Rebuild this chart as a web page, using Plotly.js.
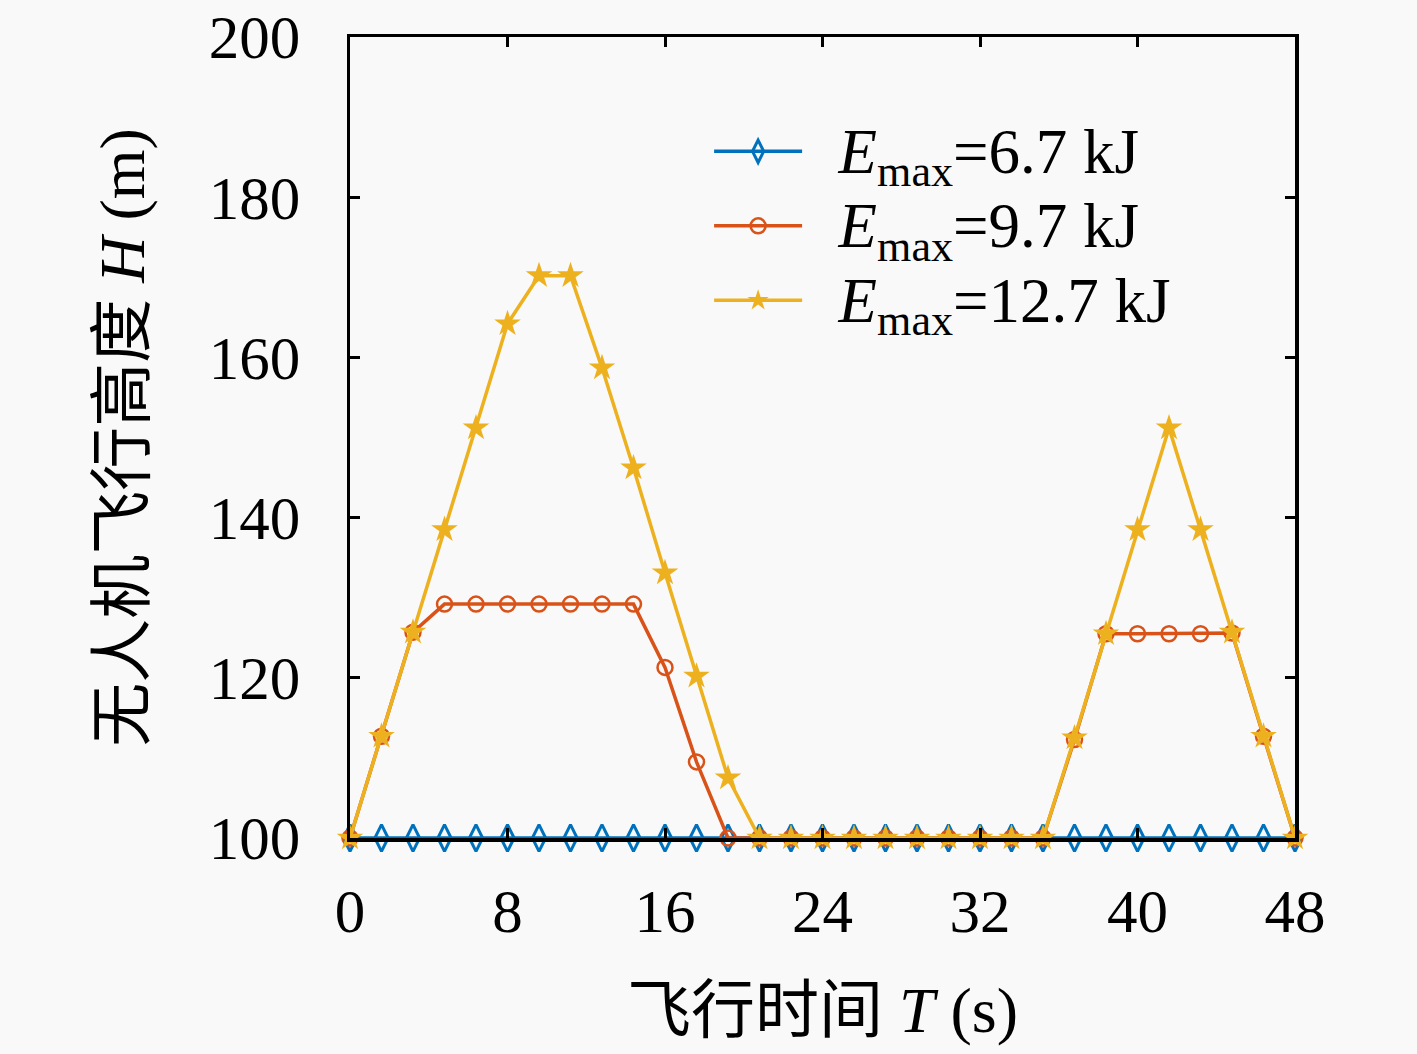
<!DOCTYPE html>
<html>
<head>
<meta charset="utf-8">
<script src="https://cdn.plot.ly/plotly-3.0.1.min.js"></script>
<style>
  html, body { margin: 0; padding: 0; background: #f9f9f9; }
  #chart { width: 1417px; height: 1054px; }
</style>
</head>
<body>
<div id="chart"></div>
<script>
// flight time T (s), one sample every 1.6 s
var timeT = [0, 1.6, 3.2, 4.8, 6.4, 8, 9.6, 11.2, 12.8, 14.4, 16, 17.6, 19.2, 20.8, 22.4, 24,
             25.6, 27.2, 28.8, 30.4, 32, 33.6, 35.2, 36.8, 38.4, 40, 41.6, 43.2, 44.8, 46.4, 48];

// UAV altitude H (m) for each energy budget
var h67 = [100, 100, 100, 100, 100, 100, 100, 100, 100, 100, 100, 100, 100, 100, 100, 100,
           100, 100, 100, 100, 100, 100, 100, 100, 100, 100, 100, 100, 100, 100, 100];
var h97 = [100, 112.7, 125.7, 129.2, 129.2, 129.2, 129.2, 129.2, 129.2, 129.2, 121.3, 109.5, 100, 100, 100, 100,
           100, 100, 100, 100, 100, 100, 100, 112.3, 125.5, 125.5, 125.5, 125.5, 125.6, 112.7, 100];
var h127 = [100, 112.7, 125.7, 138.5, 151.2, 164.2, 170.2, 170.2, 158.7, 146.2, 133.1, 120.2, 107.5, 100, 100, 100,
            100, 100, 100, 100, 100, 100, 100, 112.5, 125.5, 138.5, 151.2, 138.5, 125.7, 112.7, 100];

var energyLabels = ['6.7 kJ', '9.7 kJ', '12.7 kJ'];

var xTicks = [0, 8, 16, 24, 32, 40, 48];
var yTicks = [100, 120, 140, 160, 180, 200];

var serif = '"Liberation Serif", "Noto Sans CJK SC", serif';

function legendName(lbl) {
  return '<span style="font-size:63px">\u00a0\u00a0<i>E</i><sub>max</sub>=' + lbl + '</span>';
}

var traces = [
  {
    x: timeT, y: h67, name: legendName(energyLabels[0]), type: 'scatter', mode: 'lines+markers',
    cliponaxis: false,
    line: {color: '#0072BD', width: 3.5},
    marker: {symbol: 'diamond-tall-open', size: 19, color: '#0072BD', line: {width: 3, color: '#0072BD'}}
  },
  {
    x: timeT, y: h97, name: legendName(energyLabels[1]), type: 'scatter', mode: 'lines+markers',
    cliponaxis: false,
    line: {color: '#D95319', width: 3.5},
    marker: {symbol: 'circle-open', size: 15, color: '#D95319', line: {width: 2.5, color: '#D95319'}}
  },
  {
    x: timeT, y: h127, name: legendName(energyLabels[2]), type: 'scatter', mode: 'lines+markers',
    cliponaxis: false,
    line: {color: '#EDB120', width: 3.5},
    marker: {symbol: 'star', size: 20, color: '#EDB120', line: {width: 0}}
  }
];

var axisCommon = {
  showline: true, linecolor: '#000', linewidth: 3.5, mirror: 'allticks',
  ticks: 'inside', ticklen: 10, tickwidth: 3, tickcolor: '#000',
  showgrid: false, zeroline: false, layer: 'above traces',
  tickfont: {family: serif, size: 61, color: '#000'}
};

var layout = {
  width: 1417, height: 1054,
  margin: {l: 350, r: 122, t: 37, b: 216},
  paper_bgcolor: '#f9f9f9', plot_bgcolor: '#f9f9f9',
  showlegend: true,
  xaxis: Object.assign({}, axisCommon, {
    range: [0, 48], tickvals: xTicks, ticklabelstandoff: 17,
    title: {text: '飞行时间 <i>T</i> (s)', font: {family: serif, size: 64, color: '#000'}, standoff: 44}
  }),
  yaxis: Object.assign({}, axisCommon, {
    range: [100, 200], tickvals: yTicks, ticklabelstandoff: 34,
    title: {text: '无人机飞行高度 <i>H</i> (m)', font: {family: serif, size: 64, color: '#000'}, standoff: 44}
  }),
  legend: {
    x: 0.38, y: 0.91, xanchor: 'left', yanchor: 'top',
    bgcolor: 'rgba(0,0,0,0)', borderwidth: 0,
    itemwidth: 88, tracegroupgap: 0,
    font: {family: serif, size: 55, color: '#000'}
  }
};

Plotly.newPlot('chart', traces, layout, {displayModeBar: false, staticPlot: true});
</script>
</body>
</html>
